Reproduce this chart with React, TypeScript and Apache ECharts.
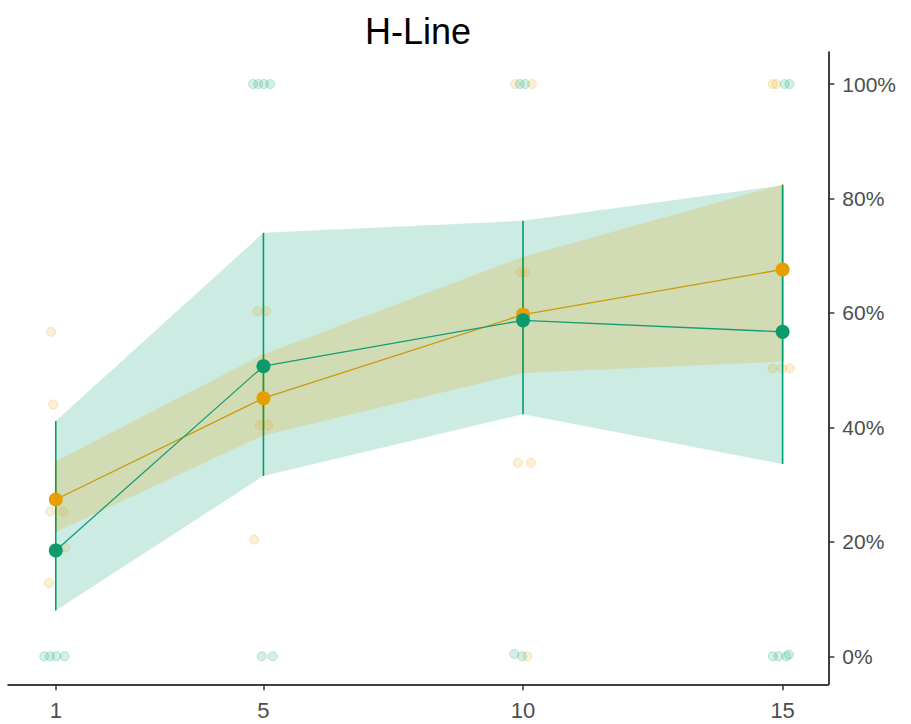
import React, { useEffect, useRef } from "react";
import * as echarts from "echarts";

// Session positions on the x axis
const sessions = [1, 5, 10, 15];

// Group means (%)
const greenMean = [18.5, 50.7, 58.7, 56.7];
const orangeMean = [27.4, 45.1, 59.7, 67.6];

// Interval bounds (%) used for ribbons and error bars
const greenLow = [8.0, 31.5, 42.3, 33.6];
const greenHigh = [41.1, 74.0, 76.1, 82.3];
const orangeLow = [21.7, 38.6, 49.5, 51.5];
const orangeHigh = [34.1, 52.8, 69.8, 82.5];

// Individual (jittered) observations: [x, value %]
const greenPoints: [number, number][] = [
  [0.78, 0], [0.89, 0], [1.01, 0], [1.17, 0],
  [4.8, 100], [4.9, 100], [5.01, 100], [5.13, 100],
  [4.97, 0], [5.18, 0],
  [9.94, 100], [10.04, 100],
  [9.83, 0.4], [9.98, 0],
  [14.81, 0], [14.92, 0], [15.07, 0], [15.12, 0.3],
  [15.04, 100], [15.13, 100],
];
const orangePoints: [number, number][] = [
  [0.91, 56.7], [0.95, 44], [0.89, 25.3], [1.14, 25.3], [1.18, 19], [0.87, 12.8],
  [4.88, 60.3], [5.05, 60.3], [4.93, 40.4], [5.09, 40.4], [4.82, 20.4],
  [9.85, 100], [10.17, 100],
  [9.96, 67.1], [10.04, 67.1],
  [9.9, 33.8], [10.15, 33.8],
  [10.08, 0],
  [14.81, 100], [14.88, 100],
  [14.81, 50.3], [14.99, 50.3], [15.14, 50.3],
];

const xTicks = [1, 5, 10, 15];
const yTicks = [0, 20, 40, 60, 80, 100];

const GREEN = "#009E73";
const ORANGE = "#E69F00";
const FONT = "Liberation Sans, Arial, sans-serif";

function ribbonSeries(low: number[], high: number[], fill: string, z: number) {
  return {
    type: "custom",
    silent: true,
    z,
    clip: true,
    data: [[sessions[0], low[0]]],
    encode: { x: 0, y: 1 },
    renderItem: (_params: any, api: any) => {
      const pts: number[][] = [];
      for (let i = 0; i < sessions.length; i++) pts.push(api.coord([sessions[i], high[i]]));
      for (let i = sessions.length - 1; i >= 0; i--) pts.push(api.coord([sessions[i], low[i]]));
      return { type: "polygon", shape: { points: pts }, style: { fill } };
    },
  };
}

function errorBarSeries(low: number[], high: number[], color: string, z: number) {
  return {
    type: "custom",
    silent: true,
    z,
    data: sessions.map((s, i) => [s, low[i], high[i]]),
    encode: { x: 0, y: [1, 2] },
    renderItem: (_params: any, api: any) => {
      const a = api.coord([api.value(0), api.value(1)]);
      const b = api.coord([api.value(0), api.value(2)]);
      return {
        type: "line",
        shape: { x1: a[0], y1: a[1], x2: b[0], y2: b[1] },
        style: { stroke: color, lineWidth: 1.6 },
      };
    },
  };
}

export default function App() {
  const ref = useRef<HTMLDivElement>(null);

  useEffect(() => {
    if (!ref.current) return;
    const chart = echarts.init(ref.current, undefined, { renderer: "svg" });
    chart.setOption({
      animation: false,
      backgroundColor: "#ffffff",
      graphic: [
        {
          type: "text",
          x: 418,
          y: 31,
          style: {
            text: "H-Line",
            fontSize: 36,
            fontFamily: FONT,
            fill: "#000000",
            textAlign: "center",
            textVerticalAlign: "middle",
          },
        },
      ],
      grid: { left: 8, right: 82.7, top: 52, bottom: 39.7, outerBoundsMode: "none" },
      xAxis: {
        type: "value",
        min: 0.08,
        max: 15.88,
        axisLine: { onZero: false, lineStyle: { color: "#000", width: 1.5 } },
        axisTick: { customValues: xTicks, length: 6, lineStyle: { color: "#333", width: 1.5 } },
        axisLabel: {
          customValues: xTicks,
          color: "#4D4D4D",
          fontSize: 22,
          fontFamily: FONT,
          margin: 15,
        },
        splitLine: { show: false },
      },
      yAxis: {
        type: "value",
        position: "right",
        min: -4.9,
        max: 105.6,
        axisLine: { show: true, onZero: false, lineStyle: { color: "#000", width: 1.5 } },
        axisTick: { show: true, customValues: yTicks, length: 6, lineStyle: { color: "#333", width: 1.5 } },
        axisLabel: {
          customValues: yTicks,
          formatter: (v: number) => `${v}%`,
          color: "#4D4D4D",
          fontSize: 21,
          fontFamily: FONT,
          margin: 14,
        },
        splitLine: { show: false },
      },
      series: [
        ribbonSeries(greenLow, greenHigh, "rgba(0,158,115,0.2)", 1),
        ribbonSeries(orangeLow, orangeHigh, "rgba(230,159,0,0.2)", 2),
        {
          type: "scatter",
          z: 3,
          silent: true,
          symbol: "circle",
          symbolSize: 9,
          data: orangePoints,
          itemStyle: { color: "rgba(230,159,0,0.2)", borderColor: "rgba(230,159,0,0.3)", borderWidth: 1 },
        },
        {
          type: "scatter",
          z: 3,
          silent: true,
          symbol: "circle",
          symbolSize: 9,
          data: greenPoints,
          itemStyle: { color: "rgba(0,158,115,0.2)", borderColor: "rgba(0,158,115,0.3)", borderWidth: 1 },
        },
        errorBarSeries(orangeLow, orangeHigh, ORANGE, 4),
        errorBarSeries(greenLow, greenHigh, GREEN, 5),
        {
          type: "line",
          z: 6,
          data: sessions.map((s, i) => [s, orangeMean[i]]),
          symbol: "circle",
          symbolSize: 14,
          showSymbol: true,
          lineStyle: { color: "#C99A08", width: 1.3 },
          itemStyle: { color: ORANGE },
        },
        {
          type: "line",
          z: 7,
          data: sessions.map((s, i) => [s, greenMean[i]]),
          symbol: "circle",
          symbolSize: 14,
          showSymbol: true,
          lineStyle: { color: "#169C72", width: 1.3 },
          itemStyle: { color: "#0C9A6C" },
        },
      ],
    });
    return () => chart.dispose();
  }, []);

  return (
    <div
      ref={ref}
      style={{ position: "fixed", left: 0, top: 0, width: 911, height: 724 }}
    />
  );
}
